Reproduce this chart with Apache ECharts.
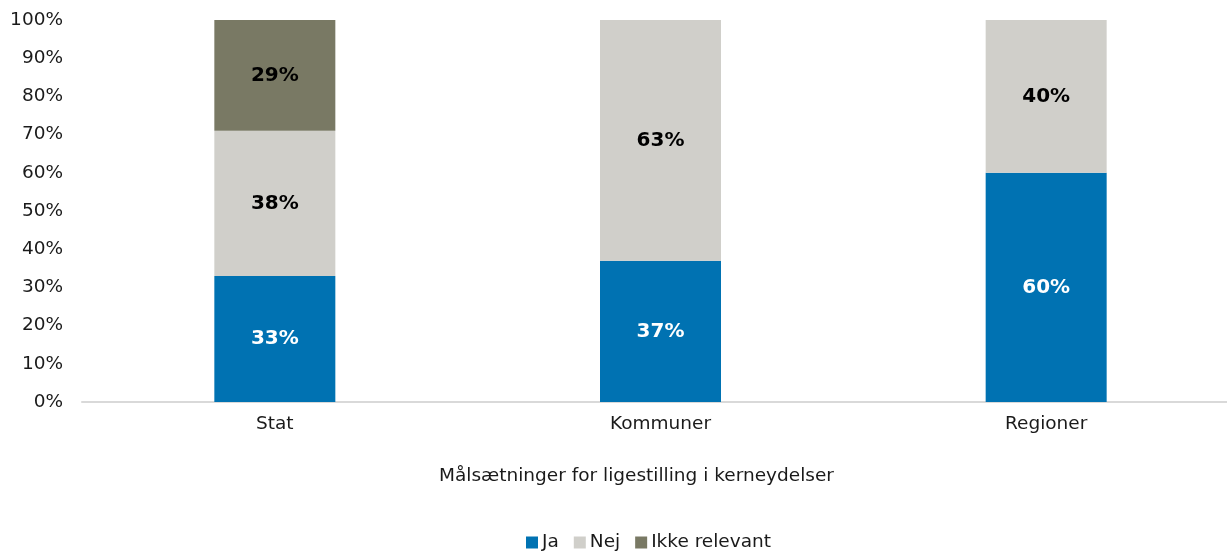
<!DOCTYPE html>
<html>
<head>
<meta charset="utf-8">
<script src="https://cdn.jsdelivr.net/npm/echarts@6/dist/echarts.min.js"></script>
<style>
  html, body { margin: 0; padding: 0; background: #fff; }
  #chart { width: 1227px; height: 552px; }
</style>
</head>
<body>
<div id="chart"></div>
<script>
const categories = ['Stat', 'Kommuner', 'Regioner']
const ja = [33, 37, 60]
const nej = [38, 63, 40]
const ikkeRelevant = [29, null, null]
const axisTitle = 'Målsætninger for ligestilling i kerneydelser'

const font = '"DejaVu Sans", sans-serif'

const chart = echarts.init(document.getElementById('chart'))

function barSeries(name, data, color, labelColor) {
  return {
    name: name,
    type: 'bar',
    stack: 'total',
    data: data,
    barWidth: 121,
    itemStyle: {color: color},
    label: {
      show: true,
      position: 'inside',
      formatter: p => p.value + '%',
      color: labelColor,
      fontFamily: font,
      fontWeight: 'bold',
      fontSize: 20
    }
  }
}

chart.setOption({
  animation: false,
  title: {
    text: axisTitle,
    left: 434,
    top: 462,
    textStyle: {fontFamily: font, fontWeight: 'normal', fontSize: 18.5, color: '#1a1a1a'}
  },
  legend: {
    left: 521,
    top: 528,
    itemWidth: 12,
    itemHeight: 12,
    itemGap: 15,
    icon: 'rect',
    textStyle: {fontFamily: font, fontSize: 18.5, color: '#1a1a1a', padding: [0, 0, 0, -1]},
    data: ['Ja', 'Nej', 'Ikke relevant']
  },
  grid: {left: 82, width: 1157, top: 20, bottom: 150, outerBoundsMode: 'none'},
  xAxis: {
    type: 'category',
    data: categories,
    axisLine: {lineStyle: {color: '#d9d9d9', width: 2}},
    axisTick: {show: false},
    axisLabel: {fontFamily: font, fontSize: 18.5, color: '#1a1a1a', margin: 13}
  },
  yAxis: {
    type: 'value',
    min: 0,
    max: 100,
    interval: 10,
    axisLine: {show: false},
    axisTick: {show: false},
    splitLine: {show: false},
    axisLabel: {
      formatter: '{value}%',
      fontFamily: font,
      fontSize: 18.5,
      color: '#1a1a1a',
      margin: 19
    }
  },
  series: [
    barSeries('Ja', ja, '#0072b2', '#ffffff'),
    barSeries('Nej', nej, '#d0cfca', '#000000'),
    barSeries('Ikke relevant', ikkeRelevant, '#797964', '#000000')
  ]
})
</script>
</body>
</html>
